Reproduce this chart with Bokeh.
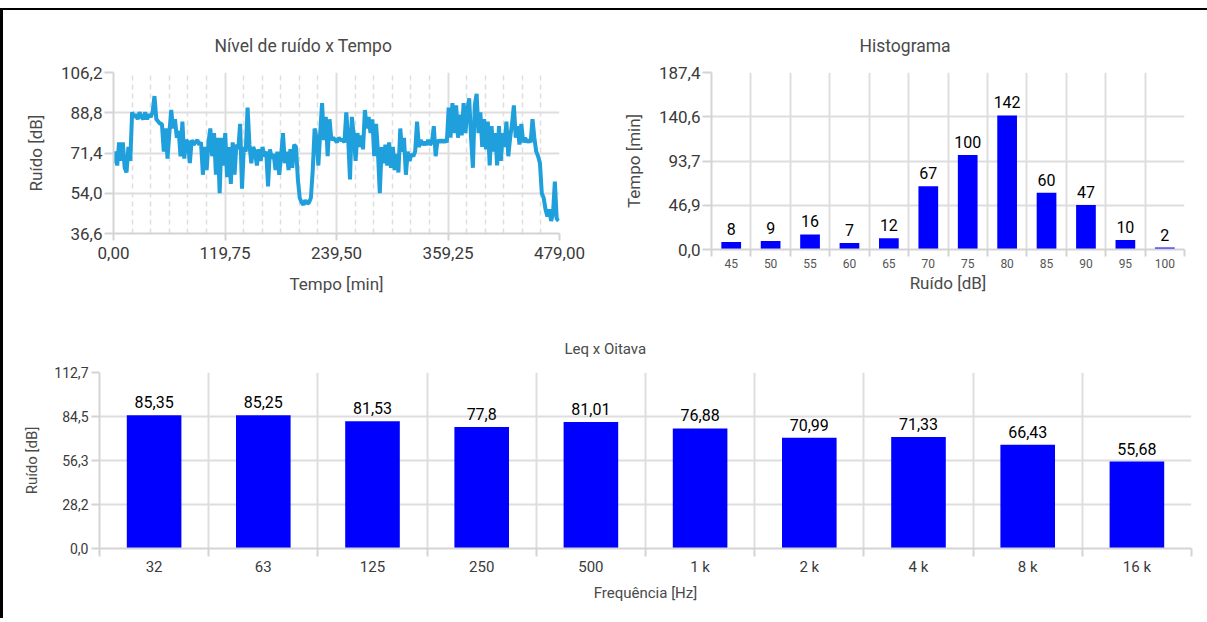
from bokeh.plotting import figure
from bokeh.layouts import column, row
from bokeh.models import (Range1d, FixedTicker, CustomJSTickFormatter,
                          ColumnDataSource, LabelSet)
from bokeh.core.properties import value
from bokeh.embed import file_html
from bokeh.resources import INLINE

# ---------------- data ----------------
tempo_min = list(range(0, 480, 2))
ruido_db = [
    67, 72, 66, 76, 68, 76, 65, 63, 74, 68,
    89, 87, 88, 86, 89, 87, 86, 89, 86, 88, 87, 89,
    96, 86, 85, 84, 84,
    72, 82, 69, 80,
    90, 82, 86, 78,
    81, 70, 85, 69, 77,
    76, 67, 77, 75, 76,
    77, 75, 76, 62, 74, 64, 76, 82,
    70, 80, 62, 78, 54,
    78, 66, 80, 61, 74, 58,
    76, 62, 75, 73,
    84, 56, 74,
    72, 91, 75, 67, 74,
    72, 66, 73, 68, 74, 70, 72,
    57, 73, 69,
    71, 64, 72, 62, 70, 80,
    67, 72, 64, 73, 65, 75, 74,
    60, 52, 50, 49, 51, 49.5, 50, 52, 64,
    82, 78, 66, 80, 93, 77, 87, 70, 86,
    77, 78, 77, 76, 78, 77, 77, 76,
    89, 78, 60, 87, 79, 68, 80, 74, 79, 73,
    90, 82, 87, 80, 86, 70, 84, 72, 54, 74,
    67, 75, 66, 76, 65, 74, 64, 71, 63, 82,
    72, 78, 62, 72, 68, 71, 70, 72, 85, 74,
    77, 75, 76, 75, 77, 75, 76, 83, 70, 77,
    76, 77, 76, 77, 76, 91, 78, 93, 80, 92,
    78, 88, 79, 93, 80, 90, 95, 78, 65, 92,
    97, 80, 89, 74, 86, 73, 85, 66, 83, 72,
    80, 66, 83, 68, 80, 74, 85, 70, 78, 84,
    92, 78, 83, 75, 84, 76, 78, 76, 77, 76,
    86, 78, 72, 70, 67, 54, 52, 47, 44, 47,
    42, 45, 59, 43, 42,
]
time_ticks = [0.0, 119.75, 239.5, 359.25, 479.0]
noise_ticks = [36.6, 54.0, 71.4, 88.8, 106.2]

hist_bins = ["45", "50", "55", "60", "65", "70", "75", "80", "85", "90", "95", "100"]
hist_counts = [8, 9, 16, 7, 12, 67, 100, 142, 60, 47, 10, 2]
hist_ticks = [0.0, 46.9, 93.7, 140.6, 187.4]

oct_bands = ["32", "63", "125", "250", "500", "1 k", "2 k", "4 k", "8 k", "16 k"]
oct_leq = [85.35, 85.25, 81.53, 77.8, 81.01, 76.88, 70.99, 71.33, 66.43, 55.68]
oct_ticks = [0.0, 28.2, 56.3, 84.5, 112.7]

# ---------------- style ----------------
FONT = "Roboto"
GRID = "#dedede"
AXIS = "#d4d4d4"
TXT = "#3a3a3a"
LBL = "#4a4a4a"
LINE = "#1f9fdc"
BAR = "#0000ff"


def base_fig(width, height, left, right, top, bottom, xr, yr):
    p = figure(width=width, height=height, x_range=xr, y_range=yr,
               output_backend="svg", toolbar_location=None,
               min_border_left=left, min_border_right=right,
               min_border_top=top, min_border_bottom=bottom,
               border_fill_color=None, background_fill_color="white",
               outline_line_color=None, frame_align=False)
    for ax in (p.xaxis[0], p.yaxis[0]):
        ax.axis_line_color = AXIS
        ax.axis_line_width = 2
        ax.major_tick_line_color = AXIS
        ax.major_tick_line_width = 2
        ax.minor_tick_line_color = AXIS
        ax.minor_tick_line_width = 2
        ax.major_tick_in = 0
        ax.minor_tick_in = 0
        ax.minor_tick_out = 0
        ax.major_label_text_font = FONT
        ax.major_label_text_color = TXT
        ax.axis_label_text_font = FONT
        ax.axis_label_text_font_style = "normal"
        ax.axis_label_text_color = LBL
    for g in (p.xgrid[0], p.ygrid[0]):
        g.grid_line_color = GRID
        g.grid_line_width = 2
    return p


def set_title(p, text, offset, standoff, size):
    p.title.text = text
    p.title.align = "left"
    p.title.offset = offset
    p.title.standoff = standoff
    p.title.text_font = FONT
    p.title.text_font_size = size
    p.title.text_font_style = "normal"
    p.title.text_color = LBL


fmt1 = CustomJSTickFormatter(code="return tick.toFixed(1).replace('.', ',');")
fmt2 = CustomJSTickFormatter(code="return tick.toFixed(2).replace('.', ',');")

# ---------------- chart 1: noise over time ----------------
p1 = base_fig(603, 300, 113, 44, 72, 67, Range1d(0, 479), Range1d(36.6, 106.2))
step = (time_ticks[1] - time_ticks[0]) / 6
minor_time = [time_ticks[i] + k * step for i in range(4) for k in range(1, 6)]
p1.xaxis.ticker = FixedTicker(ticks=time_ticks, minor_ticks=minor_time)
p1.yaxis.ticker = FixedTicker(ticks=noise_ticks)
p1.xaxis.formatter = fmt2
p1.yaxis.formatter = fmt1
p1.xgrid.minor_grid_line_color = GRID
p1.xgrid.minor_grid_line_width = 1.5
p1.xgrid.minor_grid_line_dash = "5 4"
p1.xaxis.major_tick_out = 7
p1.xaxis.major_label_standoff = 6
p1.yaxis.major_tick_out = 9
p1.yaxis.major_label_standoff = 2
for ax in (p1.xaxis[0], p1.yaxis[0]):
    ax.major_label_text_font_size = "17px"
    ax.axis_label_text_font_size = "17px"
p1.xaxis.axis_label = "Tempo [min]"
p1.yaxis.axis_label = "Ruído [dB]"
p1.xaxis.axis_label_standoff = 12
p1.yaxis.axis_label_standoff = 12
p1.line(tempo_min, ruido_db, line_width=4, line_color=LINE)
set_title(p1, "Nível de ruído x Tempo", 101, 34, "17.5px")

# ---------------- chart 2: histogram ----------------
nb = len(hist_bins)
p2 = base_fig(604, 300, 108, 23, 72, 51, Range1d(0, nb), Range1d(0, 187.4))
hist_x = [i + 0.5 for i in range(nb)]
p2.xaxis.ticker = FixedTicker(ticks=hist_x, minor_ticks=list(range(nb + 1)))
p2.xaxis.formatter = CustomJSTickFormatter(args=dict(labels=hist_bins),
                                           code="return labels[Math.floor(tick)];")
p2.yaxis.ticker = FixedTicker(ticks=hist_ticks)
p2.yaxis.formatter = fmt1
p2.xgrid.grid_line_color = None
p2.xgrid.minor_grid_line_color = GRID
p2.xgrid.minor_grid_line_width = 2
p2.xaxis.major_tick_out = 7
p2.xaxis.major_tick_line_color = None
p2.xaxis.minor_tick_out = 7
p2.xaxis.major_label_standoff = 2
p2.xaxis.major_label_text_font_size = "12px"
p2.xaxis.major_label_text_color = "#555555"
p2.yaxis.major_tick_out = 9
p2.yaxis.major_label_standoff = 2
p2.yaxis.major_label_text_font_size = "17px"
p2.xaxis.axis_label = "Ruído [dB]"
p2.yaxis.axis_label = "Tempo [min]"
p2.xaxis.axis_label_text_font_size = "17px"
p2.yaxis.axis_label_text_font_size = "17px"
p2.xaxis.axis_label_standoff = 2
p2.yaxis.axis_label_standoff = 12
src2 = ColumnDataSource(dict(x=hist_x, top=hist_counts, label=[str(c) for c in hist_counts]))
p2.vbar(x="x", top="top", bottom=0, width=0.5, source=src2, fill_color=BAR, line_color=None)
p2.add_layout(LabelSet(x="x", y="top", text="label", source=src2, text_align="center",
                       text_baseline="alphabetic", y_offset=7, text_font=value(FONT),
                       text_font_size=value("16px"), text_color="black"))
set_title(p2, "Histograma", 148, 34, "17.5px")

# ---------------- chart 3: Leq per octave ----------------
no = len(oct_bands)
p3 = base_fig(1207, 318, 99, 16, 72, 70, Range1d(0, no), Range1d(0, 112.7))
oct_x = [i + 0.5 for i in range(no)]
p3.xaxis.ticker = FixedTicker(ticks=oct_x, minor_ticks=list(range(no + 1)))
p3.xaxis.formatter = CustomJSTickFormatter(args=dict(labels=oct_bands),
                                           code="return labels[Math.floor(tick)];")
p3.yaxis.ticker = FixedTicker(ticks=oct_ticks)
p3.yaxis.formatter = fmt1
p3.xgrid.grid_line_color = None
p3.xgrid.minor_grid_line_color = GRID
p3.xgrid.minor_grid_line_width = 2
p3.xaxis.major_tick_out = 8
p3.xaxis.major_tick_line_color = None
p3.xaxis.minor_tick_out = 8
p3.xaxis.major_label_standoff = 1
p3.xaxis.major_label_text_font_size = "15px"
p3.yaxis.major_tick_out = 8
p3.yaxis.major_label_standoff = 3
p3.yaxis.major_label_text_font_size = "14px"
p3.xaxis.axis_label = "Frequência [Hz]"
p3.yaxis.axis_label = "Ruído [dB]"
p3.xaxis.axis_label_text_font_size = "15px"
p3.yaxis.axis_label_text_font_size = "15px"
p3.xaxis.axis_label_standoff = 5
p3.yaxis.axis_label_standoff = 10
src3 = ColumnDataSource(dict(x=oct_x, top=oct_leq,
                             label=[str(v).replace(".", ",") for v in oct_leq]))
p3.vbar(x="x", top="top", bottom=0, width=0.5, source=src3, fill_color=BAR, line_color=None)
p3.add_layout(LabelSet(x="x", y="top", text="label", source=src3, text_align="center",
                       text_baseline="alphabetic", y_offset=7, text_font=value(FONT),
                       text_font_size=value("16px"), text_color="black"))
set_title(p3, "Leq x Oitava", 465, 30, "15px")

frame_bg = ("linear-gradient(#000000, #000000) 0 8px / 100% 2px no-repeat, "
            "linear-gradient(#000000, #000000) 0 8px / 3px 100% no-repeat")
root = column(row(p1, p2), p3, styles={"background": frame_bg, "overflow": "hidden"})

open("out.html", "w").write(file_html(root, INLINE))
